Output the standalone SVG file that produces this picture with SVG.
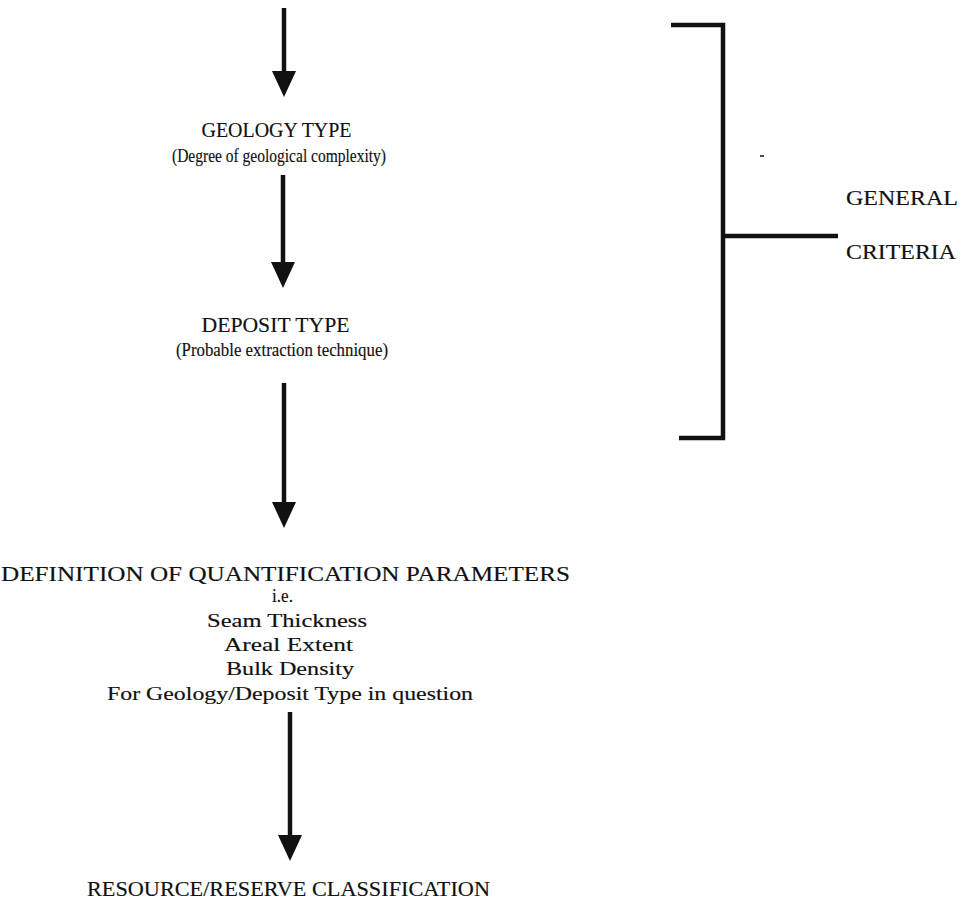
<svg xmlns="http://www.w3.org/2000/svg" width="967" height="904" viewBox="0 0 967 904">
<defs>
<style>
.t{font-family:"Liberation Serif","DejaVu Serif",serif;fill:#111;stroke:#111;stroke-width:0.15;text-anchor:middle}
.c{font-size:20px}
.l{font-size:18px}
.ln{stroke:#111;stroke-width:4.5;fill:none}
</style>
<marker id="ah" viewBox="0 0 26 24" refX="0" refY="12" markerWidth="26" markerHeight="24" markerUnits="userSpaceOnUse" orient="auto">
<path d="M0,0 L26,12 L0,24 z" fill="#111"/>
</marker>
</defs>
<rect width="967" height="904" fill="#fff"/>
<g id="connectors">
<line class="ln" x1="284" y1="8" x2="284" y2="71" marker-end="url(#ah)"/>
<line class="ln" x1="283" y1="175" x2="283" y2="262" marker-end="url(#ah)"/>
<line class="ln" x1="284" y1="383" x2="284" y2="502" marker-end="url(#ah)"/>
<line class="ln" x1="290" y1="712" x2="290" y2="835" marker-end="url(#ah)"/>
</g>
<g id="bracket">
<path class="ln" d="M671,25 H723 V438 H679"/>
<path class="ln" d="M723,236 H838"/>
<line x1="760" y1="156" x2="764" y2="156" stroke="#111" stroke-width="1.5"/>
</g>
<g id="geology">
<text class="t c" x="276.5" y="137" textLength="150" lengthAdjust="spacingAndGlyphs">GEOLOGY TYPE</text>
<text class="t l" x="279" y="162" textLength="214" lengthAdjust="spacingAndGlyphs">(Degree of geological complexity)</text>
</g>
<g id="deposit">
<text class="t c" x="275.5" y="332" textLength="148" lengthAdjust="spacingAndGlyphs">DEPOSIT TYPE</text>
<text class="t l" x="282" y="356" textLength="212" lengthAdjust="spacingAndGlyphs">(Probable extraction technique)</text>
</g>
<g id="definition">
<text class="t c" x="285.5" y="581" textLength="569" lengthAdjust="spacingAndGlyphs">DEFINITION OF QUANTIFICATION PARAMETERS</text>
<text class="t l" x="282.5" y="602" textLength="21" lengthAdjust="spacingAndGlyphs">i.e.</text>
<text class="t l" x="287" y="627" textLength="160" lengthAdjust="spacingAndGlyphs">Seam Thickness</text>
<text class="t l" x="288.5" y="651" textLength="129" lengthAdjust="spacingAndGlyphs">Areal Extent</text>
<text class="t l" x="290" y="675" textLength="128" lengthAdjust="spacingAndGlyphs">Bulk Density</text>
<text class="t l" x="290" y="700" textLength="366" lengthAdjust="spacingAndGlyphs">For Geology/Deposit Type in question</text>
</g>
<g id="classification">
<text class="t c" x="288.5" y="896" textLength="403" lengthAdjust="spacingAndGlyphs">RESOURCE/RESERVE CLASSIFICATION</text>
</g>
<g id="general-criteria">
<text class="t c" x="846" y="205" style="text-anchor:start" textLength="112" lengthAdjust="spacingAndGlyphs">GENERAL</text>
<text class="t c" x="846" y="259" style="text-anchor:start" textLength="110" lengthAdjust="spacingAndGlyphs">CRITERIA</text>
</g>
</svg>
